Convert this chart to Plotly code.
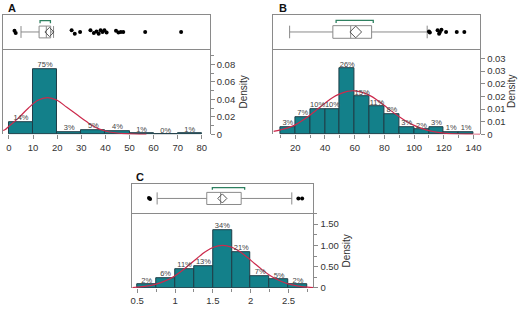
import plotly.graph_objects as go

# ---------------- data ----------------
# Panel A
bins_a = [0, 10, 20, 30, 40, 50, 60, 70]
width_a = 10
pct_a = [14, 75, 3, 5, 4, 1, 0, 1]
curve_a_x = [-2.4, -1.5, 0, 4, 8, 12, 16, 20, 24, 28, 32, 36, 40, 44, 48, 52, 57]
curve_a_y = [0.0045, 0.0056, 0.0095, 0.019, 0.030, 0.039, 0.042, 0.039, 0.031, 0.023, 0.015,
             0.008, 0.004, 0.002, 0.001, 0.0005, 0.0002]
box_a = dict(lowerfence=5.0, q1=12.5, median=15.5, q3=17.3, upperfence=18.5)
mean_a = 16.8
bracket_a = [12.9, 17.2]
out_a_x = [2.3, 2.8, 26.0, 27.3, 29.5, 33.8, 35.2, 36.3, 37.2, 38.0, 38.8, 39.6, 40.5,
           44.4, 45.4, 46.4, 47.4, 56.5, 71.4]
out_a_y = [0.1, -0.1, 0.15, -0.15, 0.0, 0.15, -0.1, 0.05, -0.15, 0.15, 0.0, 0.15, -0.05,
           0.1, -0.05, 0.0, 0.0, 0.0, 0.0]

# Panel B
bins_b = [10, 20, 30, 40, 50, 60, 70, 80, 90, 100, 110, 120, 130]
width_b = 10
pct_b = [3, 7, 10, 10, 26, 15, 11, 8, 3, 2, 3, 1, 1]
curve_b_x = [5.3, 10, 15, 20, 25, 30, 35, 40, 45, 50, 55, 60, 65, 70, 75, 80, 85, 90, 95,
             100, 105, 110, 115, 120, 130, 140, 144.5]
curve_b_y = [0.0012, 0.0018, 0.0026, 0.0038, 0.0056, 0.0077, 0.0100, 0.0123, 0.0145, 0.0160,
             0.0170, 0.0172, 0.0166, 0.0154, 0.0136, 0.0114, 0.0091, 0.0070, 0.0051, 0.0036,
             0.0024, 0.0015, 0.0009, 0.0005, 0.0002, 0.0001, 0.00005]
box_b = dict(lowerfence=16.2, q1=45.3, median=57.3, q3=71.4, upperfence=108.8)
mean_b = 60.7
bracket_b = [47.5, 72.5]
out_b_x = [110.0, 110.6, 115.8, 116.8, 117.4, 118.4, 121.5, 128.7, 133.8]
out_b_y = [0.05, -0.05, 0.15, -0.15, 0.0, 0.2, 0.0, 0.0, 0.0]

# Panel C
bins_c = [0.5, 0.75, 1.0, 1.25, 1.5, 1.75, 2.0, 2.25, 2.5]
width_c = 0.25
pct_c = [2, 6, 11, 13, 34, 21, 7, 5, 2]
curve_c_x = [0.434, 0.5, 0.6, 0.75, 0.9, 1.0, 1.1, 1.2, 1.3, 1.4, 1.5, 1.63, 1.75, 1.85, 1.95,
             2.05, 2.15, 2.25, 2.35, 2.45, 2.55, 2.65, 2.75, 2.83]
curve_c_y = [0.011, 0.018, 0.036, 0.089, 0.189, 0.289, 0.416, 0.561, 0.711, 0.848, 0.949, 1.0,
             0.956, 0.86, 0.726, 0.576, 0.43, 0.30, 0.198, 0.122, 0.071, 0.039, 0.02, 0.011]
box_c = dict(lowerfence=0.763, q1=1.419, median=1.602, q3=1.874, upperfence=2.543)
mean_c = 1.625
bracket_c = [1.493, 1.92]
out_c_x = [0.655, 0.67, 2.63, 2.68]
out_c_y = [0.05, -0.05, 0.0, 0.0]

# tick labels
xt_a = [0, 10, 20, 30, 40, 50, 60, 70, 80]
xt_b = [20, 40, 60, 80, 100, 120, 140]
xt_c = [0.5, 1.0, 1.5, 2.0, 2.5]
xt_c_text = ["0.5", "1", "1.5", "2", "2.5"]
yt_a = [0, 0.02, 0.04, 0.06, 0.08]
yt_a_text = ["0", "0.02", "0.04", "0.06", "0.08"]
yt_b = [0, 0.005, 0.01, 0.015, 0.02, 0.025, 0.03]
yt_b_text = ["0", "0.01", "0.01", "0.02", "0.02", "0.03", "0.03"]
yt_c = [0, 0.5, 1.0, 1.5]
yt_c_text = ["0", "0.50", "1.00", "1.50"]

# ---------------- styling ----------------
W, H = 520, 309
FONT = "Liberation Sans, Arial, sans-serif"
BAR_FILL = "#13808a"
BAR_LINE = "#1f3d47"
CURVE = "#cc2a4c"
GRAY = "#8a8a8a"
GREEN = "#2e8060"
TXT = "#333333"


def px(v):
    return v / W


def py(v):
    return 1 - v / H


fig = go.Figure()

panels = [
    dict(hx="x", hy="y", bx="x2", by="y2", bins=bins_a, w=width_a, pct=pct_a,
         cx=curve_a_x, cy=curve_a_y, box=box_a, mean=mean_a, br=bracket_a,
         ox=out_a_x, oy=out_a_y, bw=1.03, msize=7, bry=0.99),
    dict(hx="x3", hy="y3", bx="x4", by="y4", bins=bins_b, w=width_b, pct=pct_b,
         cx=curve_b_x, cy=curve_b_y, box=box_b, mean=mean_b, br=bracket_b,
         ox=out_b_x, oy=out_b_y, bw=1.1, msize=9, bry=1.01),
    dict(hx="x5", hy="y5", bx="x6", by="y6", bins=bins_c, w=width_c, pct=pct_c,
         cx=curve_c_x, cy=curve_c_y, box=box_c, mean=mean_c, br=bracket_c,
         ox=out_c_x, oy=out_c_y, bw=1.23, msize=7, bry=1.1),
]

for p in panels:
    centers = [b + p["w"] / 2 for b in p["bins"]]
    dens = [v / 100 / p["w"] for v in p["pct"]]
    fig.add_trace(go.Bar(x=centers, y=dens, width=[p["w"]] * len(centers),
                         marker=dict(color=BAR_FILL, line=dict(color=BAR_LINE, width=1)),
                         xaxis=p["hx"], yaxis=p["hy"], showlegend=False, hoverinfo="skip"))
    fig.add_trace(go.Scatter(x=p["cx"], y=p["cy"], mode="lines", line=dict(color=CURVE, width=1.2,
                             shape="spline"), xaxis=p["hx"], yaxis=p["hy"], showlegend=False,
                             cliponaxis=True))
    fig.add_trace(go.Scatter(x=centers, y=dens, mode="text", text=[f"{v}%" for v in p["pct"]],
                             textposition="top center",
                             textfont=dict(size=7.5, color="#444444", family=FONT),
                             xaxis=p["hx"], yaxis=p["hy"], showlegend=False, cliponaxis=False))
    b = p["box"]
    fig.add_trace(go.Box(orientation="h", y=[0], q1=[b["q1"]], median=[b["median"]], q3=[b["q3"]],
                         lowerfence=[b["lowerfence"]], upperfence=[b["upperfence"]],
                         width=p["bw"], whiskerwidth=1, boxpoints=False,
                         fillcolor="white", line=dict(color=GRAY, width=1),
                         xaxis=p["bx"], yaxis=p["by"], showlegend=False))
    fig.add_trace(go.Scatter(x=[p["mean"]], y=[0], mode="markers",
                             marker=dict(symbol="diamond-open", size=p["msize"],
                                         color="#555555", line=dict(width=1)),
                             xaxis=p["bx"], yaxis=p["by"], showlegend=False))
    fig.add_trace(go.Scatter(x=p["ox"], y=p["oy"], mode="markers",
                             marker=dict(size=4, color="black"),
                             xaxis=p["bx"], yaxis=p["by"], showlegend=False))
    lo, hi = p["br"]
    y0 = p["bry"]
    fig.add_trace(go.Scatter(x=[lo, lo, hi, hi], y=[y0 - 0.22, y0, y0, y0 - 0.22], mode="lines",
                             line=dict(color=GREEN, width=1.3),
                             xaxis=p["bx"], yaxis=p["by"], showlegend=False))

tickfont = dict(size=9.5, color=TXT, family=FONT)


def hist_x(domain, rng, tickvals, ticktext, minor_dtick, tick0):
    return dict(domain=domain, range=rng, showgrid=False, zeroline=False, showline=False,
                ticks="outside", ticklen=4, tickcolor=GRAY, tickfont=tickfont,
                tickvals=tickvals, ticktext=ticktext,
                minor=dict(ticks="outside", ticklen=3, dtick=minor_dtick, tick0=tick0,
                           tickcolor=GRAY, showgrid=False))


def hist_y(domain, rng, tickvals, ticktext, minor_dtick=None):
    d = dict(domain=domain, range=rng, side="right", showgrid=False, zeroline=False,
             showline=True, linecolor=GRAY, mirror=True, ticks="outside", ticklen=4,
             tickcolor=GRAY, tickfont=tickfont, tickvals=tickvals, ticktext=ticktext)
    if minor_dtick:
        d["minor"] = dict(ticks="outside", ticklen=3, dtick=minor_dtick, tickcolor=GRAY,
                          showgrid=False)
    return d


def box_x(domain, rng, anchor):
    return dict(domain=domain, range=rng, showgrid=False, zeroline=False, showline=True,
                mirror=True, linecolor=GRAY, showticklabels=False, ticks="", anchor=anchor)


def box_y(domain, anchor):
    return dict(domain=domain, range=[-1.5, 1.5], showgrid=False, zeroline=False, showline=True,
                mirror=True, linecolor=GRAY, showticklabels=False, ticks="", anchor=anchor)


ax_a = [px(1), px(209)]
ax_b = [px(273), px(481)]
ax_c = [px(131), px(313.3)]
hy_ab = [py(136.7), py(50)]
by_ab = [py(50), py(15)]
hy_c = [py(292.7), py(216.7)]
by_c = [py(216.7), py(186.7)]

rng_a = [-2.47, 83.3]
rng_b = [5.3, 144.5]
rng_c = [0.434, 2.83]

fig.update_layout(
    width=W, height=H, margin=dict(l=0, r=0, t=0, b=0),
    paper_bgcolor="white", plot_bgcolor="white", bargap=0,
    font=dict(family=FONT, color=TXT),
    xaxis=dict(**hist_x(ax_a, rng_a, xt_a, [str(v) for v in xt_a], 10, 0), anchor="y"),
    yaxis=dict(**hist_y(hy_ab, [0, 0.0974], yt_a, yt_a_text, 0.01), anchor="x"),
    xaxis2=box_x(ax_a, rng_a, "y2"),
    yaxis2=box_y(by_ab, "x2"),
    xaxis3=dict(**hist_x(ax_b, rng_b, xt_b, [str(v) for v in xt_b], 10, 0), anchor="y3"),
    yaxis3=dict(**hist_y(hy_ab, [0, 0.0336], yt_b, yt_b_text), anchor="x3"),
    xaxis4=box_x(ax_b, rng_b, "y4"),
    yaxis4=box_y(by_ab, "x4"),
    xaxis5=dict(**hist_x(ax_c, rng_c, xt_c, xt_c_text, 0.25, 0.5), anchor="y5"),
    yaxis5=dict(**hist_y(hy_c, [0, 1.755], yt_c, yt_c_text, 0.25), anchor="x5"),
    xaxis6=box_x(ax_c, rng_c, "y6"),
    yaxis6=box_y(by_c, "x6"),
)

for label, x, y in [("A", 4, 8), ("B", 277, 8), ("C", 133, 180)]:
    fig.add_annotation(text=f"<b>{label}</b>", x=px(x), y=py(y), xref="paper", yref="paper",
                       xanchor="left", yanchor="middle", showarrow=False,
                       font=dict(size=11, color="#111111", family=FONT))

for x, y in [(243, 93.4), (513, 93.4), (347, 254.7)]:
    fig.add_annotation(text="Density", x=px(x), y=py(y), xref="paper", yref="paper",
                       xanchor="center", yanchor="middle", showarrow=False, textangle=-90,
                       font=dict(size=10, color=TXT, family=FONT))

fig.write_html(
    "out.html",
    config={"displayModeBar": False},
    post_script="document.body.style.margin='0';document.body.style.padding='0';"
                "document.body.style.overflow='hidden';",
)
